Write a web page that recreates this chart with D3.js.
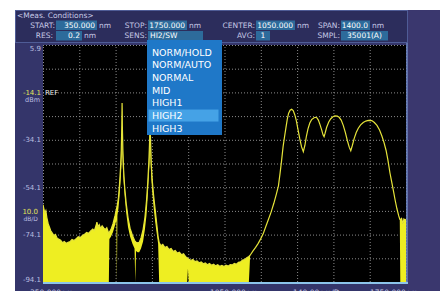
<!DOCTYPE html>
<html>
<head>
<meta charset="utf-8">
<script src="https://cdnjs.cloudflare.com/ajax/libs/d3/7.8.5/d3.min.js"></script>
<style>
body { margin: 0; background: #fff; }
svg { display: block; }
text { font-family: "DejaVu Sans", sans-serif; }
</style>
</head>
<body>
<svg width="446" height="291"></svg>
<script>
var F = -94.1; // floor = bottom of screen

// trace, wavelength in nm
var traceNm = [
    350, 353, 357, 361, 365, 370, 375, 380, 386, 392, 398, 404, 410, 418, 425, 432, 440, 447, 455, 462,
    470, 478, 486, 494, 502, 510, 518, 526, 534, 542, 548, 554, 558, 562, 567, 572, 578, 584, 590, 596, 601, 604,
    606, 612, 620, 628, 633, 635, 637, 641, 645, 649, 652, 654, 655, 656, 658, 661, 665, 671, 678, 686,
    695, 703, 706, 709, 715, 721, 728, 736, 743, 749, 754, 758, 761, 763, 765, 768, 772, 777, 783, 789, 794,
    798, 805, 812, 820, 828, 836, 844, 852, 860, 868, 876, 884, 892, 900, 906, 909, 912, 920, 928, 936,
    944, 952, 960, 968, 976, 984, 992, 1000, 1008, 1016, 1024, 1032, 1040, 1048, 1056, 1064, 1072, 1080, 1088, 1096,
    1104, 1112, 1120, 1128, 1136, 1144,
    1149, 1160, 1170, 1180, 1190, 1200, 1210, 1220, 1230, 1240, 1250, 1258, 1264, 1270, 1276, 1282, 1287, 1292, 1297, 1303,
    1309, 1315, 1321, 1327, 1333, 1340, 1347, 1354, 1360, 1366, 1372, 1379, 1386, 1394, 1400, 1406, 1412, 1418, 1425, 1430,
    1434, 1438, 1444, 1452, 1460, 1468, 1476, 1485, 1492, 1500, 1508, 1516, 1524, 1531, 1537, 1543, 1550, 1558, 1566, 1575,
    1585, 1595, 1605, 1618, 1628, 1638, 1648, 1657, 1665, 1673, 1680, 1688, 1695, 1701, 1708, 1715, 1722, 1726,
    1728, 1733, 1738, 1742, 1746, 1750
];
// upper envelope (dBm)
var traceMax = [
    -61.5, -63, -65, -64, -67, -69.5, -71, -72.5, -73.5, -74.5, -74, -75.5, -76, -76.5, -77.5, -77, -77.8, -77.3, -77, -76.2,
    -76.6, -75.8, -75, -75.4, -74.5, -74, -73.2, -73.6, -72.5, -71.8, -72.4, -70.5, -68.8, -70.8, -69.9, -71.5, -70.4, -71.3, -72, -71.2, -72.8, -73.5,
    -73, -72, -69.5, -66, -63.5, -62.5, -61.5, -58.5, -53, -46, -38, -28, -18.6, -28, -38, -47, -54, -61, -67, -71.5,
    -74.5, -76.5, -77, -77.3, -77.6, -77.4, -75.5, -72, -67, -60, -52, -44, -35, -27, -35, -45, -52, -58, -64, -70, -75,
    -77.5, -78.8, -78.2, -79.6, -79.1, -80.4, -80, -81.2, -80.8, -81.9, -81.5, -82.6, -82.2, -83.4, -83.8, -84.2, -84.4, -85, -84.6, -85.5,
    -85.2, -86, -85.6, -86.4, -86.1, -86.8, -86.3, -87, -86.6, -87.3, -86.8, -87.5, -87.1, -87.6, -87, -87.4, -86.8, -86.9, -86.3, -86.6,
    -85.8, -85.6, -84.8, -84.6, -83.9, -83.3,
    -82.8, -81, -79.5, -77.8, -75.8, -73.5, -70.5, -67.5, -64.5, -61, -57, -53.5, -48.5, -43, -37, -32.5, -29, -25.5, -23, -21.6,
    -21.2, -21.8, -23.5, -26, -29.5, -33.5, -37, -39.1, -36.5, -32.5, -29.5, -27, -25.6, -24.9, -24.6, -24.8, -25.8, -27.6, -30, -32,
    -32.8, -31.3, -28.8, -26.6, -25.2, -24.4, -24, -24.1, -24.6, -25.8, -28, -31, -34.5, -37.2, -38.7, -36.5, -33.6, -31, -29.2, -27.8,
    -26.8, -26.2, -25.9, -26, -26.8, -28, -30, -32.5, -35.2, -38.5, -42.5, -48, -52, -55.3, -59.5, -63.2, -66.2, -67.6,
    -67.8, -67.3, -69.6, -67.5, -68, -67.6
];
// lower envelope (dBm), null = single line
var traceMin = [
    F, F, F, F, F, F, F, F, F, F, F, F, F, F, F, F, F, F, F, F,
    F, F, F, F, F, F, F, F, F, F, F, F, F, F, F, F, F, F, F, F, F, F,
    -76, -75, -73, -70, -68, F, -66, -63, -58, -52, -46, -40, -30, -40, -46, -52, -58, -65, -71, -75,
    -78, -80, F, -81, -81.5, -81.5, -80, -77, -72, -66, -58, -50, -44, -38, -44, -51, -57, -63, -69, -74, -78,
    F, F, F, F, F, F, F, F, F, F, F, F, F, F, F, -88.5, F, F, F, F,
    F, F, F, F, F, F, F, F, F, F, F, F, F, F, F, F, F, F, F, F,
    F, F, F, F, F, F,
    null, null, null, null, null, null, null, null, null, null, null, null, null, null, null, null, null, null, null, null,
    null, null, null, null, null, null, null, null, null, null, null, null, null, null, null, null, null, null, null, null,
    null, null, null, null, null, null, null, null, null, null, null, null, null, null, null, null, null, null, null, null,
    null, null, null, null, null, null, null, null, null, null, null, null, null, null, null, null, null, null,
    F, F, F, F, F, F
];

var yTickValues = [5.9, -14.1, -34.1, -54.1, -74.1, -94.1];
var yTickLabels = ["5.9", "-14.1", "-34.1", "-54.1", "-74.1", "-94.1"];
var bottomLabels = ["350.000nm", "1050.000nm", "140.00nm/D", "1750.000nm"];

var fieldLabels = ["START:", "STOP:", "CENTER:", "SPAN:", "RES:", "SENS:", "AVG:", "SMPL:"];
var fieldValues = ["350.000", "1750.000", "1050.000", "1400.0", "0.2", "HI2/SW", "1", "35001(A)"];
var fieldUnits = ["nm", "nm", "nm", "nm", "nm", "", "", ""];

var menuItems = ["NORM/HOLD", "NORM/AUTO", "NORMAL", "MID", "HIGH1", "HIGH2", "HIGH3"];
var menuSelected = "HIGH2";

var svg = d3.select("svg");

var plotL = 43, plotR = 406, plotT = 45, plotB = 282;

var x = d3.scaleLinear().domain([350, 1750]).range([plotL, plotR]);
var y = d3.scaleLinear().domain([-94.1, 5.9]).range([plotB, plotT]);

// screen panels
svg.append("rect").attr("x", 15).attr("y", 10).attr("width", 425).attr("height", 281).attr("fill", "#34356a");
svg.append("rect").attr("x", 408).attr("y", 10).attr("width", 32).attr("height", 281).attr("fill", "#3a376e");
svg.append("rect").attr("x", 15.5).attr("y", 10.5).attr("width", 392).attr("height", 32)
    .attr("fill", "#2c2d5c").attr("stroke", "#4f5c96");

svg.append("rect").attr("x", plotL).attr("y", plotT).attr("width", plotR - plotL).attr("height", plotB - plotT).attr("fill", "#000");

// grid
var gridX = svg.append("g").attr("transform", "translate(0," + plotB + ")")
    .call(d3.axisBottom(x).tickValues(d3.range(350, 1751, 140)).tickSize(-(plotB - plotT)).tickFormat(""));
var gridY = svg.append("g").attr("transform", "translate(" + plotL + ",0)")
    .call(d3.axisLeft(y).tickValues(d3.range(5.9, -95, -10)).tickSize(-(plotR - plotL)).tickFormat(""));
[gridX, gridY].forEach(function (g) {
    g.select(".domain").remove();
    g.selectAll("line").attr("stroke", "#8a8a8a").attr("stroke-width", 1).attr("stroke-dasharray", "1,2");
});

// trace
var trace = traceNm.map(function (w, i) {
    return { w: w, hi: traceMax[i], lo: traceMin[i] == null ? traceMax[i] : traceMin[i] };
});

svg.append("clipPath").attr("id", "plotclip").append("rect")
    .attr("x", plotL).attr("y", plotT).attr("width", plotR - plotL).attr("height", plotB - plotT);

var plot = svg.append("g").attr("clip-path", "url(#plotclip)");

plot.append("path").datum(trace)
    .attr("fill", "#eeee22")
    .attr("d", d3.area().x(function (d) { return x(d.w); }).y0(function (d) { return y(d.lo); }).y1(function (d) { return y(d.hi); }));

plot.append("path").datum(trace)
    .attr("fill", "none").attr("stroke", "#e6e43a").attr("stroke-width", 1.2)
    .attr("d", d3.line().x(function (d) { return x(d.w); }).y(function (d) { return y(d.hi); }));

// frame
svg.append("line").attr("x1", plotL).attr("x2", plotR + 2).attr("y1", plotB + 1).attr("y2", plotB + 1)
    .attr("stroke", "#8cc4ea").attr("stroke-width", 2);
svg.append("line").attr("x1", plotR + 1).attr("x2", plotR + 1).attr("y1", plotT - 2).attr("y2", plotB)
    .attr("stroke", "#6d86c2").attr("stroke-width", 1.5);

// y labels
yTickValues.forEach(function (v, i) {
    var yy = y(v) + 2.5;
    if (i == 0) yy += 3;
    if (i == yTickValues.length - 1) yy -= 3;
    svg.append("text").attr("x", 41).attr("y", yy).attr("text-anchor", "end")
        .attr("font-size", 7).attr("fill", i == 1 ? "#e4e45a" : "#b9bde0").text(yTickLabels[i]);
});
svg.append("text").attr("x", 45).attr("y", y(-14.1) + 2.5).attr("font-size", 7).attr("fill", "#e8e8e8").text("REF");
svg.append("text").attr("x", 40).attr("y", y(-14.1) + 10).attr("text-anchor", "end").attr("font-size", 6.5).attr("fill", "#b9bde0").text("dBm");
svg.append("text").attr("x", 38).attr("y", 214).attr("text-anchor", "end").attr("font-size", 7).attr("fill", "#e4e45a").text("10.0");
svg.append("text").attr("x", 38).attr("y", 220.5).attr("text-anchor", "end").attr("font-size", 6).attr("fill", "#b9bde0").text("dB/D");

// bottom labels
var bottomX = [30, 210, 293, 370];
bottomLabels.forEach(function (t, i) {
    svg.append("text").attr("x", bottomX[i]).attr("y", 295).attr("font-size", 7.5).attr("fill", "#c7c9e6").text(t);
});

// header
svg.append("text").attr("x", 17).attr("y", 18).attr("font-size", 7.5).attr("fill", "#c7c9e6").text("<Meas. Conditions>");

// [label right edge, box x0, box x1, row, align]
var fieldLayout = [
    [55, 56, 97, 0, "end"], [147, 148, 187, 0, "end"], [255, 256, 295, 0, "end"], [340, 341, 370, 0, "end"],
    [53, 56, 82, 1, "end"], [147, 148, 203, 1, "start"], [255, 256, 270, 1, "middle"], [340, 341, 388, 1, "middle"]
];
fieldLabels.forEach(function (lab, i) {
    var L = fieldLayout[i];
    var by = L[3] == 0 ? 20.5 : 31;
    var base = by + 7.3;
    svg.append("rect").attr("x", L[1]).attr("y", by).attr("width", L[2] - L[1]).attr("height", 9.5).attr("fill", "#2d6b9b");
    svg.append("text").attr("x", L[0]).attr("y", base).attr("text-anchor", "end").attr("font-size", 7.5).attr("fill", "#c7c9e6").text(lab);
    var vx = L[4] == "end" ? L[2] - 2 : (L[4] == "start" ? L[1] + 2 : (L[1] + L[2]) / 2);
    svg.append("text").attr("x", vx).attr("y", base).attr("text-anchor", L[4]).attr("font-size", 7.5).attr("fill", "#fff").text(fieldValues[i]);
    if (fieldUnits[i]) {
        svg.append("text").attr("x", L[2] + 2).attr("y", base).attr("font-size", 7.5).attr("fill", "#c7c9e6").text(fieldUnits[i]);
    }
});

// sensitivity drop-down
svg.append("rect").attr("x", 147).attr("y", 40).attr("width", 75).attr("height", 95).attr("fill", "#1f78c8");
menuItems.forEach(function (m, i) {
    var cy = 52.3 + i * 12.65;
    if (m == menuSelected) {
        svg.append("rect").attr("x", 148.5).attr("y", cy - 6).attr("width", 70).attr("height", 12).attr("fill", "#45a2e6");
    }
    svg.append("text").attr("x", 152).attr("y", cy + 3.5).attr("font-size", 9.5).attr("fill", "#fff").text(m);
});
</script>
</body>
</html>
